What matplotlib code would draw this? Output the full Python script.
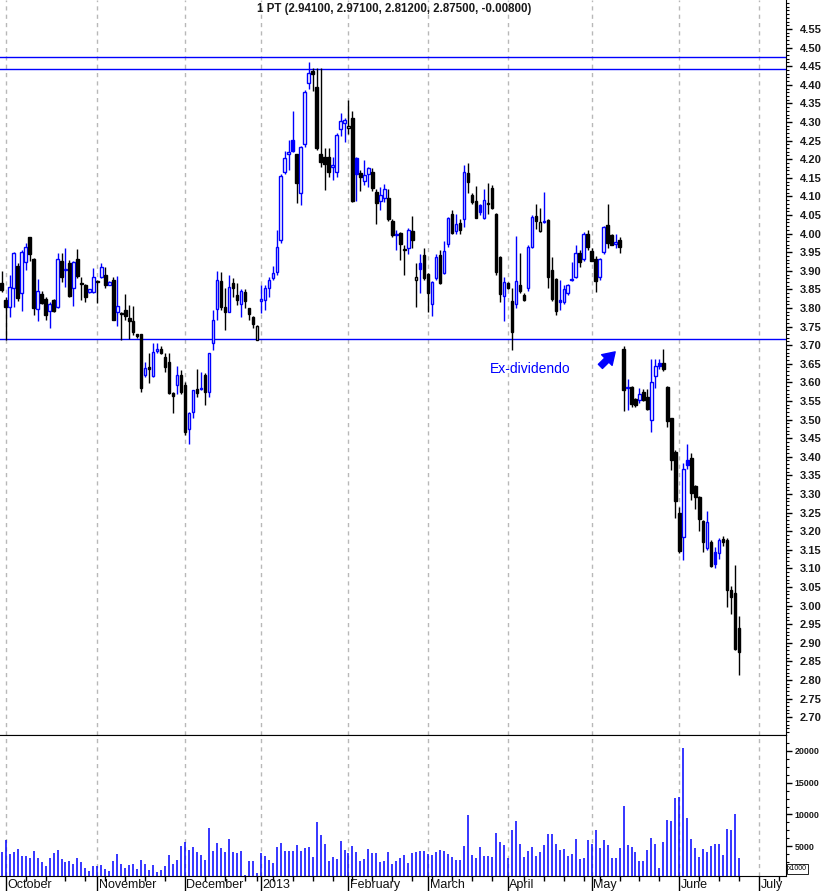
import numpy as np
import pandas as pd
import matplotlib
matplotlib.use('Agg')
import matplotlib.pyplot as plt
from matplotlib.ticker import FixedLocator, MultipleLocator, FormatStrFormatter, NullFormatter

plt.rcParams['font.family'] = ['Liberation Sans', 'DejaVu Sans']

# trading days (Euronext Lisbon), Sep 28 2012 .. mid July 2013
holidays = ['2012-12-25', '2012-12-26', '2013-01-01', '2013-03-29', '2013-04-01', '2013-05-01']
days = pd.bdate_range('2012-09-28', '2013-07-12')
days = days[~days.isin(pd.to_datetime(holidays))]

opens = np.array([
    3.868, 3.821, 3.802, 3.853, 3.913, 3.839, 3.924, 3.990, 3.931, 3.796,
    3.837, 3.823, 3.793, 3.821, 3.803, 3.926, 3.902, 3.920, 3.855, 3.933,
    3.866, 3.861, 3.842, 3.842, 3.872, 3.882, 3.889, 3.863, 3.875, 3.790,
    3.786, 3.794, 3.772, 3.765, 3.729, 3.729, 3.620, 3.641, 3.618, 3.684,
    3.691, 3.669, 3.655, 3.572, 3.593, 3.621, 3.593, 3.476, 3.521, 3.581,
    3.581, 3.621, 3.573, 3.705, 3.796, 3.873, 3.802, 3.790, 3.867, 3.835,
    3.811, 3.842, 3.799, 3.776, 3.715, 3.818, 3.821, 3.853, 3.880, 3.896,
    3.983, 4.166, 4.213, 4.251, 4.214, 4.108, 4.241, 4.404, 4.437, 4.393,
    4.215, 4.205, 4.207, 4.178, 4.166, 4.280, 4.298, 4.283, 4.310, 4.204,
    4.162, 4.142, 4.159, 4.166, 4.113, 4.088, 4.095, 4.097, 4.034, 3.995,
    4.001, 3.958, 3.962, 4.007, 3.876, 3.920, 3.942, 3.891, 3.810, 3.881,
    3.942, 3.895, 3.971, 4.052, 4.008, 4.029, 4.038, 4.162, 4.104, 4.087,
    4.077, 4.043, 4.080, 4.122, 4.052, 3.936, 3.833, 3.868, 3.819, 3.812,
    3.862, 3.835, 3.853, 3.965, 4.047, 4.008, 4.031, 4.036, 3.902, 3.879,
    3.821, 3.817, 3.839, 3.876, 3.884, 3.949, 3.931, 4.000, 3.953, 3.933,
    3.882, 3.951, 4.023, 3.996, 3.971, 3.983, 3.691, 3.584, 3.588, 3.554,
    3.552, 3.573, 3.561, 3.499, 3.618, 3.651, 3.653, 3.588, 3.503, 3.413,
    3.250, 3.183, 3.391, 3.396, 3.321, 3.291, 3.227, 3.154, 3.170, 3.143,
    3.140, 3.180, 3.176, 3.042, 3.033, 2.941])
highs = np.array([
    3.899, 3.830, 3.890, 3.950, 3.920, 3.955, 3.975, 3.992, 3.935, 3.877,
    3.845, 3.830, 3.815, 3.825, 3.949, 3.949, 3.960, 3.930, 3.925, 3.958,
    3.884, 3.865, 3.852, 3.908, 3.875, 3.920, 3.911, 3.872, 3.884, 3.886,
    3.790, 3.837, 3.808, 3.806, 3.730, 3.730, 3.654, 3.678, 3.705, 3.707,
    3.698, 3.678, 3.678, 3.575, 3.645, 3.633, 3.600, 3.520, 3.580, 3.635,
    3.629, 3.625, 3.680, 3.794, 3.899, 3.897, 3.853, 3.889, 3.880, 3.866,
    3.850, 3.851, 3.800, 3.779, 3.755, 3.862, 3.862, 3.884, 3.913, 4.010,
    4.160, 4.223, 4.252, 4.329, 4.215, 4.235, 4.385, 4.462, 4.444, 4.444,
    4.444, 4.231, 4.229, 4.205, 4.270, 4.325, 4.310, 4.359, 4.330, 4.205,
    4.170, 4.198, 4.180, 4.175, 4.120, 4.126, 4.133, 4.119, 4.040, 4.009,
    4.005, 3.970, 4.015, 4.047, 3.920, 3.945, 3.960, 3.895, 3.873, 3.945,
    3.957, 3.980, 4.045, 4.063, 4.052, 4.038, 4.184, 4.191, 4.110, 4.128,
    4.080, 4.119, 4.135, 4.130, 4.055, 3.940, 3.882, 3.870, 3.853, 3.993,
    3.949, 3.840, 3.970, 4.050, 4.079, 4.068, 4.111, 4.040, 3.936, 3.880,
    3.875, 3.862, 3.865, 3.924, 3.969, 3.955, 4.005, 4.009, 3.960, 3.940,
    3.935, 4.020, 4.079, 4.000, 4.000, 3.990, 3.698, 3.608, 3.590, 3.558,
    3.584, 3.581, 3.581, 3.662, 3.662, 3.662, 3.691, 3.590, 3.505, 3.418,
    3.264, 3.382, 3.434, 3.409, 3.325, 3.294, 3.230, 3.254, 3.175, 3.158,
    3.182, 3.186, 3.182, 3.052, 3.109, 2.971])
lows = np.array([
    3.844, 3.714, 3.775, 3.802, 3.820, 3.793, 3.902, 3.927, 3.781, 3.766,
    3.810, 3.768, 3.747, 3.790, 3.800, 3.871, 3.857, 3.830, 3.805, 3.880,
    3.821, 3.817, 3.840, 3.840, 3.814, 3.880, 3.853, 3.862, 3.768, 3.751,
    3.714, 3.768, 3.716, 3.727, 3.720, 3.575, 3.615, 3.597, 3.615, 3.680,
    3.675, 3.629, 3.570, 3.517, 3.570, 3.570, 3.458, 3.434, 3.503, 3.561,
    3.580, 3.539, 3.561, 3.687, 3.768, 3.794, 3.741, 3.790, 3.830, 3.808,
    3.775, 3.799, 3.768, 3.747, 3.713, 3.787, 3.794, 3.830, 3.875, 3.890,
    3.974, 4.160, 4.171, 4.220, 4.083, 4.077, 4.234, 4.388, 4.384, 4.225,
    4.178, 4.117, 4.153, 4.144, 4.153, 4.262, 4.247, 4.269, 4.085, 4.088,
    4.115, 4.130, 4.126, 4.115, 4.027, 4.063, 4.086, 4.035, 3.990, 3.956,
    3.930, 3.888, 3.946, 3.960, 3.803, 3.839, 3.875, 3.790, 3.779, 3.875,
    3.865, 3.891, 3.965, 3.998, 4.000, 4.000, 4.018, 4.108, 4.080, 4.041,
    4.050, 4.040, 4.054, 4.065, 3.890, 3.817, 3.766, 3.850, 3.687, 3.800,
    3.840, 3.820, 3.845, 3.960, 4.012, 4.005, 4.028, 3.854, 3.820, 3.781,
    3.794, 3.810, 3.835, 3.873, 3.880, 3.909, 3.925, 3.955, 3.925, 3.844,
    3.875, 3.945, 3.960, 3.968, 3.962, 3.947, 3.524, 3.525, 3.533, 3.535,
    3.545, 3.550, 3.525, 3.467, 3.586, 3.635, 3.630, 3.481, 3.364, 3.236,
    3.140, 3.122, 3.366, 3.284, 3.259, 3.201, 3.145, 3.150, 3.105, 3.102,
    3.125, 3.160, 2.997, 2.977, 2.880, 2.812])
closes = np.array([
    3.848, 3.802, 3.857, 3.947, 3.828, 3.951, 3.963, 3.944, 3.799, 3.846,
    3.814, 3.781, 3.812, 3.793, 3.931, 3.884, 3.903, 3.832, 3.923, 3.886,
    3.864, 3.830, 3.850, 3.882, 3.869, 3.909, 3.861, 3.870, 3.768, 3.804,
    3.783, 3.778, 3.766, 3.736, 3.725, 3.586, 3.638, 3.636, 3.682, 3.691,
    3.678, 3.642, 3.572, 3.564, 3.621, 3.575, 3.467, 3.517, 3.579, 3.572,
    3.586, 3.573, 3.678, 3.769, 3.875, 3.803, 3.790, 3.857, 3.854, 3.821,
    3.845, 3.820, 3.783, 3.756, 3.751, 3.823, 3.853, 3.875, 3.893, 3.963,
    4.155, 4.202, 4.220, 4.223, 4.135, 4.232, 4.381, 4.433, 4.428, 4.231,
    4.193, 4.188, 4.166, 4.184, 4.265, 4.303, 4.305, 4.290, 4.088, 4.159,
    4.151, 4.157, 4.175, 4.123, 4.081, 4.104, 4.119, 4.038, 3.996, 3.998,
    3.972, 3.955, 4.011, 3.984, 3.882, 3.904, 3.881, 3.841, 3.869, 3.936,
    3.868, 3.953, 4.041, 4.002, 4.027, 4.011, 4.165, 4.139, 4.086, 4.043,
    4.057, 4.090, 4.082, 4.068, 3.897, 3.837, 3.869, 3.853, 3.736, 3.872,
    3.845, 3.821, 3.963, 4.044, 4.034, 4.030, 4.034, 3.884, 3.823, 3.793,
    3.815, 3.850, 3.862, 3.879, 3.947, 3.923, 4.000, 3.963, 3.927, 3.873,
    3.932, 4.018, 3.974, 3.970, 3.978, 3.963, 3.579, 3.588, 3.542, 3.539,
    3.570, 3.552, 3.528, 3.600, 3.644, 3.645, 3.635, 3.497, 3.391, 3.282,
    3.147, 3.366, 3.378, 3.303, 3.293, 3.233, 3.172, 3.224, 3.107, 3.111,
    3.176, 3.170, 3.042, 3.022, 2.883, 2.875])
# volume, in units of 1000 shares
volume = np.array([
    4100, 6000, 3800, 4100, 4600, 3500, 3500, 3200, 4300, 3200,
    2550, 1900, 3200, 4000, 4400, 3000, 2550, 2700, 2200, 3200,
    2550, 1600, 1100, 1900, 1900, 2100, 1450, 1100, 2700, 3800,
    2200, 1600, 2100, 2200, 1450, 2900, 2200, 1300, 2100, 1000,
    1300, 1900, 3600, 2200, 2900, 5100, 5700, 4400, 4900, 4100,
    3600, 2900, 7900, 4300, 5500, 4700, 4100, 6200, 4100, 4000,
    4300, 500, 2700, 2700, 800, 4000, 3500, 2900, 2400, 4900,
    5500, 4300, 4300, 4300, 5200, 4300, 4700, 4900, 3300, 8800,
    6800, 5400, 2700, 3300, 3000, 5800, 4400, 4000, 5100, 4100,
    2700, 3000, 4600, 4000, 4000, 2550, 2700, 4100, 2200, 2700,
    3200, 3600, 2400, 4000, 4100, 4300, 4300, 3800, 3600, 4100,
    4400, 4300, 3800, 3300, 2900, 2900, 5100, 9900, 3600, 3200,
    4900, 3500, 3500, 3300, 7100, 5700, 5200, 3200, 7600, 9000,
    5400, 3300, 4300, 4900, 3500, 4100, 5200, 6900, 6900, 5400,
    4400, 4600, 3500, 3800, 6200, 3000, 3200, 6000, 5400, 7600,
    4700, 6000, 5200, 3200, 3200, 4700, 11300, 5200, 4900, 4100,
    2700, 2700, 4400, 6300, 5400, 1600, 5700, 9100, 9000, 12600,
    12700, 20400, 9400, 6200, 4700, 3300, 4600, 4100, 5100, 5400,
    5400, 3600, 7700, 7600, 10100, 3200])

levels = [4.475, 4.442, 3.716]
title = '1 PT (2.94100, 2.97100, 2.81200, 2.87500, -0.00800)'
month_names = {10: 'October', 11: 'November', 12: 'December', 1: '2013', 2: 'February',
               3: 'March', 4: 'April', 5: 'May', 6: 'June', 7: 'July'}

BLUE = '#0000ff'
n = len(closes)
x = np.arange(n)
prev = np.r_[opens[0], closes[:-1]]
col = np.where(closes >= prev, BLUE, 'black')
face = np.where(closes >= opens, 'white', col)

mstart = [i for i in range(1, len(days)) if days[i].month != days[i - 1].month]
mondays = [i for i in range(len(days)) if days[i].weekday() == 0 and i not in mstart]

fig = plt.figure(figsize=(8.22, 8.91), dpi=100)
W, H = 822, 891
ax = fig.add_axes([0, 156 / H, 786 / W, 735 / H])
axv = fig.add_axes([0, 15 / H, 786 / W, 141 / H])
xlim = (-0.43, 196.76)

for a in (ax, axv):
    a.set_xlim(*xlim)
    for m in mstart:
        a.axvline(m, color='#b8b8b8', ls=(0, (3, 3)), lw=1, zorder=0)
    a.spines['left'].set_visible(False)
    a.yaxis.tick_right()

# price panel
for lv in levels:
    ax.axhline(lv, color=BLUE, lw=1, zorder=1)
ax.vlines(x, lows, highs, colors=col, lw=1, zorder=2)
body_lo = np.minimum(opens, closes)
body_h = np.maximum(np.abs(closes - opens), 0.002)
ax.bar(x, body_h, bottom=body_lo, width=0.62, color=face, edgecolor=col, linewidth=1, zorder=3)

ax.set_ylim(2.652, 4.628)
ax.spines['top'].set_visible(False)
ax.tick_params(axis='x', bottom=False, labelbottom=False)
ax.yaxis.set_major_locator(FixedLocator(np.round(np.arange(2.70, 4.551, 0.05), 2)))
ax.yaxis.set_major_formatter(FormatStrFormatter('%.2f'))
ax.yaxis.set_minor_locator(MultipleLocator(0.01))
ax.tick_params(axis='y', which='major', length=4, width=1, pad=6, labelsize=8, labelcolor='#1a1a1a')
ax.tick_params(axis='y', which='minor', length=2, width=0.8)
for t in ax.get_yticklabels():
    t.set_fontweight('bold')

ax.text(132.5, 3.636, 'Ex-dividendo', color=BLUE, ha='center', va='center', fontsize=10)
ax.annotate('', xy=(153.9, 3.682), xytext=(150.2, 3.643),
            arrowprops=dict(arrowstyle='simple,head_width=0.9,head_length=0.7,tail_width=0.35',
                            fc=BLUE, ec=BLUE, mutation_scale=12, shrinkA=0, shrinkB=0))

# volume panel
axv.vlines(x, 0, volume, colors=BLUE, lw=1.1)
axv.set_ylim(360, 22460)
axv.yaxis.set_major_locator(FixedLocator([5000, 10000, 15000, 20000]))
axv.yaxis.set_minor_locator(MultipleLocator(1250))
axv.tick_params(axis='y', which='major', length=4, width=1, pad=2, labelsize=6.4, labelcolor='#1a1a1a')
axv.tick_params(axis='y', which='minor', length=2, width=0.8)
for t in axv.get_yticklabels():
    t.set_fontweight('bold')

axv.set_xticks(mstart)
axv.set_xticks(mondays, minor=True)
axv.xaxis.set_major_formatter(NullFormatter())
axv.tick_params(axis='x', which='major', length=11, width=1, direction='out')
axv.tick_params(axis='x', which='minor', length=3.5, width=1, direction='out')
for m in mstart:
    axv.text(m + 0.35, -0.02, month_names[days[m].month], transform=axv.get_xaxis_transform(),
             ha='left', va='top', fontsize=9, color='#111111')

fig.text(394 / W, 1 - 9 / H, title, ha='center', va='center', fontsize=8.3,
         fontweight='bold', color='#1a1a1a')
fig.text(788 / W, 1 - 869 / H, 'x1000', ha='left', va='center', fontsize=5,
         bbox=dict(boxstyle='square,pad=0.15', fc='white', ec='black', lw=0.6))

fig.savefig('out.png', dpi=100)
